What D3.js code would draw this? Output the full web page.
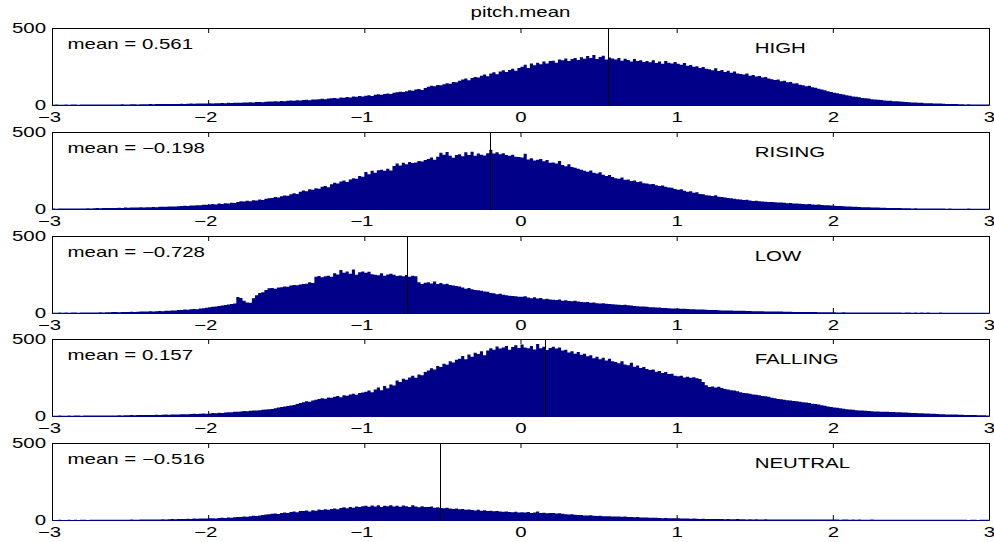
<!DOCTYPE html>
<html>
<head>
<meta charset="utf-8">
<script src="https://cdn.jsdelivr.net/npm/d3@7"></script>
<style>
body { margin: 0; background: #fff; }
svg { display: block; }
</style>
</head>
<body>
<svg id="chart"></svg>
<script>
var width = 994, height = 542

// histogram bins: 300 bins of width 0.02 starting at -3
var binStart = -3, binWidth = 0.02
var categories = ['HIGH', 'RISING', 'LOW', 'FALLING', 'NEUTRAL']
var means = [0.561, -0.198, -0.728, 0.157, -0.516]
var meanLabels = ['mean = 0.561', 'mean = \u22120.198', 'mean = \u22120.728', 'mean = 0.157', 'mean = \u22120.516']
var xTicks = [-3, -2, -1, 0, 1, 2, 3]
var xTickLabels = ['\u22123', '\u22122', '\u22121', '0', '1', '2', '3']
var yTicks = [0, 500]
var yTickLabels = ['0', '500']
var title = 'pitch.mean'

var countsHigh = [
  2,3,2,2,3,2,3,3,2,3, 3,3,4,3,3,4,3,4,4,3, 4,4,5,4,4,5,5,4,5,5, 5,6,5,6,6,7,6,6,7,7,
  7,8,7,8,9,8,9,10,9,10, 11,10,12,11,13,12,14,13,15,14, 15,17,16,18,17,19,20,18,21,22, 22,24,23,26,25,27,29,28,31,30,
  32,34,31,36,35,38,40,37,42,44, 45,42,48,47,52,49,55,53,58,56, 60,64,58,66,70,67,72,75,71,80, 82,86,84,90,95,92,100,104,98,110,
  118,125,121,130,128,135,142,138,150,147, 158,165,172,160,175,182,178,190,198,186, 205,212,200,218,225,215,228,235,222,240, 248,262,240,270,258,275,265,282,270,285,
  288,275,295,290,302,285,298,306,292,310, 300,318,305,325,298,312,320,296,308,302, 295,305,288,300,292,282,298,286,290,280, 285,278,290,272,282,268,286,275,270,280,
  268,262,272,255,260,248,252,240,246,235, 232,225,238,220,228,215,222,210,218,205, 202,198,205,190,195,185,188,178,182,172, 168,162,165,155,158,148,150,140,142,132,
  128,122,125,115,112,105,100,95,90,84, 80,76,72,68,64,60,56,53,50,46, 44,42,38,36,34,32,30,28,27,25, 24,22,21,19,18,17,16,14,14,12,
  12,11,10,9,9,8,7,7,6,6, 5,5,4,5,4,4,3,4,3,3
]
var countsRising = [
  3,2,3,4,3,3,4,4,3,4, 4,5,4,5,6,5,6,7,6,7, 7,8,7,9,8,9,10,9,11,10, 11,12,13,12,14,15,14,16,17,16,
  18,19,21,20,23,22,25,24,27,28, 30,32,29,35,33,38,36,41,39,45, 50,48,53,51,57,55,62,59,66,70, 72,78,75,83,88,86,95,102,98,112,
  120,115,128,125,135,132,145,150,142,160, 170,165,178,185,175,192,200,196,215,210, 240,225,248,236,252,255,248,262,250,280, 295,282,300,290,305,298,302,312,308,318,
  325,335,320,340,365,352,370,345,332,350, 355,342,368,350,372,345,360,352,348,362, 385,360,368,356,362,350,345,352,340,338, 335,358,322,330,315,320,325,310,318,300,
  302,296,312,285,278,290,272,268,262,255, 248,242,250,235,230,238,222,215,220,208, 200,196,205,190,192,182,185,175,178,168, 165,160,162,155,150,152,145,140,138,130,
  125,128,118,112,115,105,108,98,95,90, 88,85,90,80,78,75,72,70,66,64, 62,58,60,55,52,54,50,48,47,46, 45,44,42,43,40,38,39,36,35,34,
  33,31,32,30,28,29,26,25,24,22, 21,20,19,18,17,16,15,14,13,12, 11,11,10,9,9,8,8,7,7,6, 6,6,5,5,5,4,5,4,4,4,
  4,3,4,3,3,3,2,3,2,2, 2,2,2,3,2,2,1,2,2,1
]
var countsLow = [
  2,2,3,2,3,2,3,3,2,3, 3,4,3,4,4,5,4,5,5,6, 6,5,7,6,7,8,7,8,9,9, 10,11,10,12,13,12,14,15,16,17,
  19,20,22,21,24,26,25,29,31,34, 38,40,43,45,48,52,55,58,62,104, 98,80,68,66,95,115,130,135,150,160, 162,158,165,168,172,170,178,182,180,185,
  188,190,200,195,235,240,232,238,242,236, 258,250,280,262,270,255,282,248,265,270, 262,268,252,248,245,258,242,250,255,248, 240,244,238,246,236,242,238,200,188,196,
  200,192,205,188,195,186,190,182,178,175, 172,165,158,162,155,150,148,145,140,138, 130,128,122,125,118,115,112,110,108,106, 105,108,100,96,102,94,98,90,92,88,
  86,84,88,80,82,78,76,80,74,72, 70,72,66,68,64,62,64,60,58,57, 56,54,52,53,50,48,46,44,43,42, 40,38,37,36,35,33,32,31,30,29,
  30,28,27,26,25,24,23,22,22,21, 20,19,19,18,17,17,16,16,15,15, 14,14,13,13,12,12,11,11,10,10, 10,9,9,9,8,8,8,7,7,7,
  7,6,6,6,6,5,5,5,5,5, 5,4,4,5,4,4,4,4,3,4, 4,3,3,4,3,3,3,3,3,3, 3,3,2,3,3,2,3,2,3,2,
  3,2,2,2,3,2,2,2,2,2, 2,2,2,1,2,2,2,1,2,2
]
var countsFalling = [
  2,2,3,2,2,3,2,3,3,2, 3,3,3,4,3,4,4,3,4,4, 4,5,4,5,5,6,5,6,6,6, 6,7,7,8,7,8,9,8,9,10,
  10,11,12,11,13,14,13,15,16,15, 17,19,18,21,20,23,25,24,27,28, 30,32,31,34,36,35,38,40,42,44, 45,50,55,58,62,65,68,72,78,84,
  90,95,92,100,105,110,115,112,120,118, 125,130,122,135,132,140,145,138,150,152, 158,165,155,172,185,168,195,180,205,198, 230,220,242,236,250,262,248,270,265,285,
  295,310,302,325,318,340,332,355,348,365, 372,390,368,400,385,410,402,420,395,425, 440,430,452,438,445,455,430,448,460,442, 465,445,440,455,432,468,440,450,428,442,
  450,438,445,425,430,412,420,405,415,398, 405,388,395,375,385,368,378,360,372,355, 350,342,355,335,330,345,320,328,312,318, 305,298,302,288,292,280,285,272,275,262,
  258,262,250,255,248,252,245,240,220,200, 188,192,185,190,182,175,172,168,165,160, 155,150,148,145,140,138,135,130,128,125, 118,115,110,108,105,102,100,98,95,92,
  90,88,85,80,78,74,70,66,62,58, 56,54,50,47,44,42,40,38,36,35, 34,32,31,30,29,28,27,27,26,26, 25,24,23,22,21,20,19,18,18,17,
  16,15,14,13,12,11,10,10,9,9, 8,8,7,7,6,6,5,5,5,4
]
var countsNeutral = [
  0,0,1,0,0,1,0,1,0,1, 1,0,1,1,1,1,2,1,1,2, 1,2,2,1,2,3,2,2,3,3, 3,3,4,3,4,5,4,5,6,5,
  6,7,6,8,7,9,8,10,9,10, 11,12,10,13,14,13,16,15,18,19, 20,22,21,25,27,26,30,32,35,38, 40,42,39,45,48,46,52,55,50,58,
  58,62,56,64,60,68,65,70,66,72, 75,70,78,82,76,85,80,88,84,90, 92,86,94,88,95,85,92,90,96,88, 92,86,94,90,85,95,88,82,90,85,
  84,88,80,82,78,76,80,74,72,75, 70,72,66,68,65,62,66,60,63,58, 60,57,58,55,54,56,52,50,53,48, 50,48,52,46,48,55,45,47,44,46,
  45,42,44,40,38,36,38,34,33,32, 30,29,31,27,26,28,25,24,25,23, 23,22,21,22,20,19,18,19,17,16, 16,15,14,15,13,12,13,11,12,11,
  11,10,9,10,8,9,8,7,8,7, 7,6,7,6,6,5,6,5,5,6, 5,5,4,5,4,5,4,4,5,4, 4,4,3,4,4,3,4,3,4,3,
  3,4,3,3,4,3,3,4,3,3, 3,3,2,3,3,2,3,2,3,2, 2,2,3,2,2,2,1,2,2,2, 2,1,2,2,1,2,1,1,2,1,
  1,1,1,2,1,1,1,1,1,1, 1,1,1,0,1,1,0,1,1,1
]
var allCounts = [countsHigh, countsRising, countsLow, countsFalling, countsNeutral]

var plotLeft = 52, plotRight = 989
var panelTop = 28, panelStep = 103.75, panelHeight = 77
var barColor = '#000088'
var fontFamily = 'Liberation Sans, Arial, Helvetica, sans-serif'
var textScale = 1.46 // the reference text is stretched sideways

var svg = d3.select('#chart')
    .attr('width', width)
    .attr('height', height)

var xScale = d3.scaleLinear()
    .domain([-3, 3])
    .range([plotLeft, plotRight])

// stretch text horizontally while keeping its anchor point
function stretch(sel) {
    sel.each(function () {
        var t = d3.select(this)
        var x = +t.attr('x') || 0
        t.attr('x', x / textScale)
            .attr('transform', 'scale(' + textScale + ',1)')
    })
}

function styleAxis(g) {
    g.attr('font-size', 14).attr('font-family', fontFamily)
    g.select('.domain').attr('stroke', '#000')
    g.selectAll('.tick line').attr('stroke', '#000')
    g.selectAll('.tick text').attr('fill', '#000')
}

svg.append('text')
    .attr('x', (plotLeft + plotRight) / 2)
    .attr('y', 17)
    .attr('text-anchor', 'middle')
    .attr('font-size', 14)
    .attr('font-family', fontFamily)
    .attr('fill', '#000')
    .text(title)
    .call(stretch)

allCounts.forEach(function (counts, i) {
    var top = Math.round(panelTop + i * panelStep)
    var bottom = top + panelHeight

    var yScale = d3.scaleLinear()
        .domain([0, 500])
        .range([bottom, top])

    var panel = svg.append('g').attr('class', 'panel')

    // frame + inward ticks, drawn below the bars like MATLAB's default layer
    panel.append('g')
        .attr('transform', 'translate(0,' + top + ')')
        .call(d3.axisTop(xScale).tickValues(xTicks).tickSizeInner(-5).tickSizeOuter(0).tickFormat(''))
        .call(styleAxis)
    panel.append('g')
        .attr('transform', 'translate(' + plotRight + ',0)')
        .call(d3.axisRight(yScale).tickValues(yTicks).tickSizeInner(-5).tickSizeOuter(0).tickFormat(''))
        .call(styleAxis)
    panel.append('g')
        .attr('transform', 'translate(' + plotLeft + ',0)')
        .call(d3.axisLeft(yScale).tickValues(yTicks).tickSizeInner(-5).tickSizeOuter(0).tickPadding(6)
            .tickFormat(function (d, k) { return yTickLabels[k] }))
        .call(styleAxis)
        .selectAll('.tick text').call(stretch)
    var xAxisG = panel.append('g')
        .attr('transform', 'translate(0,' + bottom + ')')
        .call(d3.axisBottom(xScale).tickValues(xTicks).tickSizeInner(-5).tickSizeOuter(0).tickPadding(7)
            .tickFormat(function (d, k) { return xTickLabels[k] }))
        .call(styleAxis)
    xAxisG.selectAll('.tick text')
        .call(stretch)
        .attr('dx', function (d) { return d < 0 ? -3 / textScale : 0 })

    // histogram as one stepped shape so neighbouring bars leave no seams
    var edges = counts.concat([counts[counts.length - 1]])
    var histArea = d3.area()
        .x(function (d, j) { return xScale(binStart + j * binWidth) })
        .y0(yScale(0) + 1)
        .y1(function (d) { return yScale(d) })
        .curve(d3.curveStepAfter)
    panel.append('path')
        .datum(edges)
        .attr('d', histArea)
        .attr('fill', barColor)

    var mx = Math.round(xScale(means[i])) + 0.5
    panel.append('line')
        .attr('x1', mx).attr('x2', mx)
        .attr('y1', top).attr('y2', bottom + 1)
        .attr('stroke', '#000')
        .attr('stroke-width', 1)

    panel.append('text')
        .attr('x', xScale(-2.9))
        .attr('y', top + 21.5)
        .attr('font-size', 14)
        .attr('font-family', fontFamily)
        .attr('fill', '#000')
        .text(meanLabels[i])
        .call(stretch)

    panel.append('text')
        .attr('x', xScale(1.5))
        .attr('y', top + 25)
        .attr('font-size', 14)
        .attr('font-family', fontFamily)
        .attr('fill', '#000')
        .text(categories[i])
        .call(stretch)
})
</script>
</body>
</html>
